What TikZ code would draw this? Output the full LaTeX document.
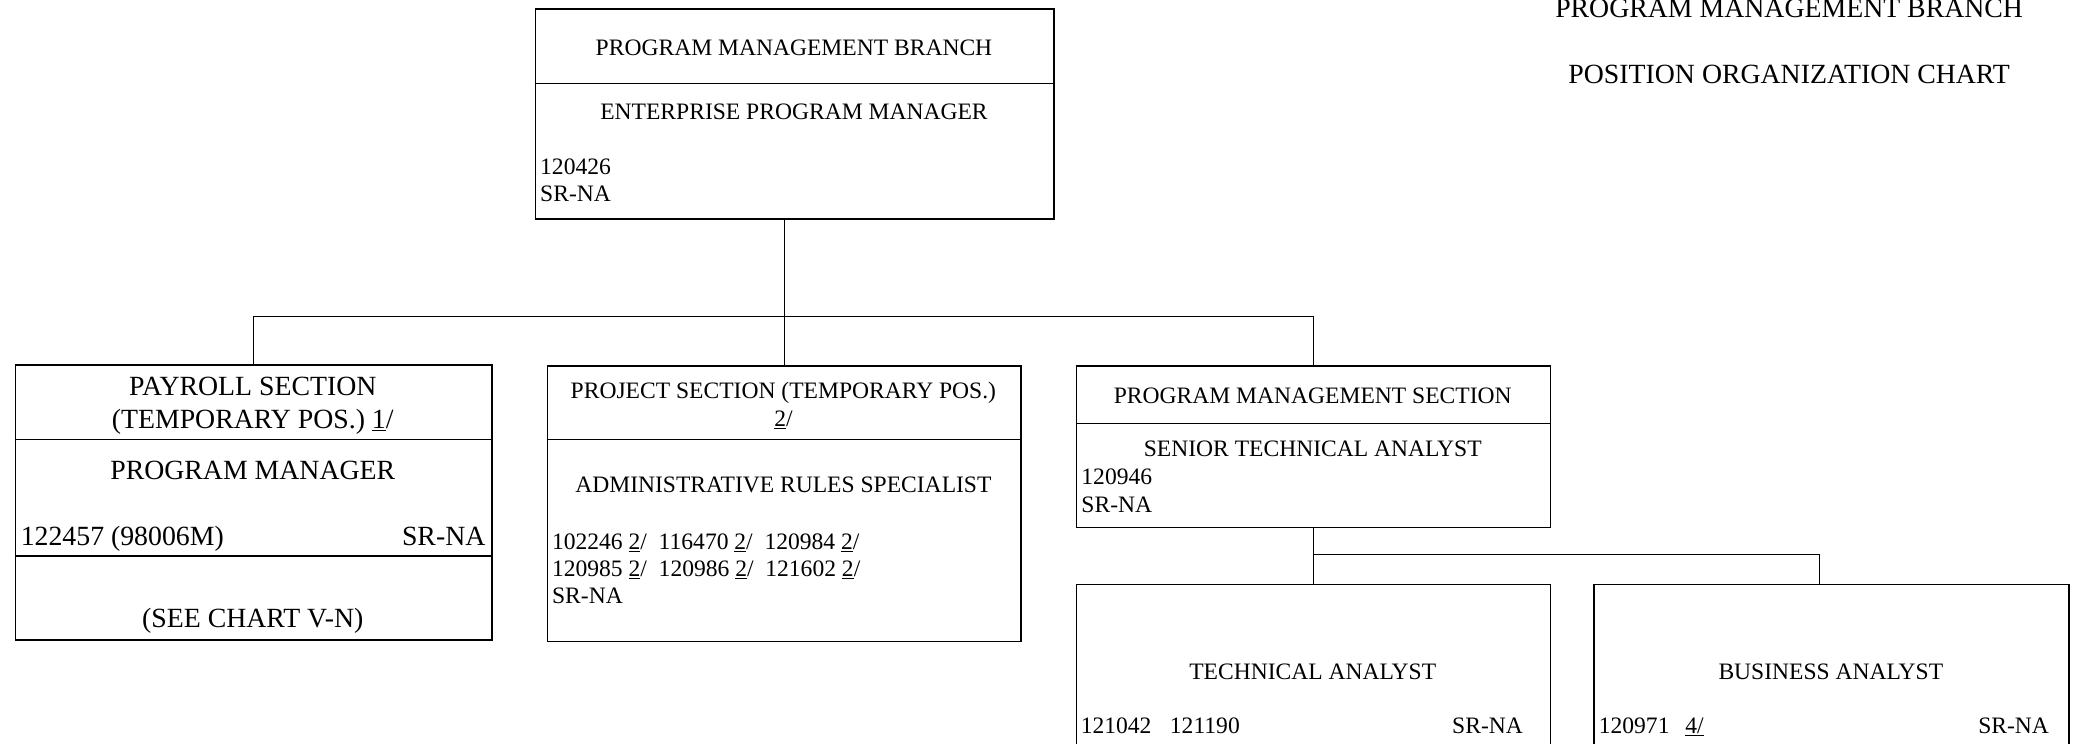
\documentclass[tikz,border=0pt]{standalone}
\usepackage{fontspec}
\setmainfont{Liberation Serif}
\newcommand{\chartfont}{\fontsize{17.8}{21}\selectfont}
\newcommand{\bigchartfont}{\fontsize{21}{25}\selectfont}
\newcommand{\fnmark}[1]{\underline{#1}/}

\begin{document}
\begin{tikzpicture}[x=1pt, y=-1pt,
    box/.style={draw, line width=1.2pt, inner sep=0pt, anchor=north west},
    txt/.style={inner sep=0pt, anchor=base, font=\chartfont},
    ltxt/.style={txt, anchor=base west},
    rtxt/.style={txt, anchor=base east},
    link/.style={line width=0.8pt},
    rule/.style={line width=1.1pt}]
    \useasboundingbox (0,0) rectangle (1568,562);
    \clip (0,0) rectangle (1568,562);

    % heading
    \node[txt, font=\bigchartfont] (head1) at (1352,13) {PROGRAM MANAGEMENT BRANCH};
    \node[txt, font=\bigchartfont] (head2) at (1352,63) {POSITION ORGANIZATION CHART};

    % boxes
    \node[box, minimum width=392pt, minimum height=159pt] (branch) at (404,6) {};
    \node[box, minimum width=360pt, minimum height=208pt] (payroll) at (11,275) {};
    \node[box, minimum width=358pt, minimum height=208pt] (project) at (413,276) {};
    \node[box, minimum width=358pt, minimum height=122pt] (pms) at (813,276) {};
    \node[box, minimum width=358pt, minimum height=122pt] (tech) at (813,441) {};
    \node[box, minimum width=359pt, minimum height=122pt] (business) at (1204,441) {};

    \draw[rule] (404,63) -- (796,63);
    \draw[rule] (11,332) -- (371,332);
    \draw[rule] (11,420) -- (371,420);
    \draw[rule] (413,332) -- (771,332);
    \draw[rule] (813,320) -- (1171,320);

    % connectors
    \coordinate (bus) at (0,239);
    \coordinate (subbus) at (0,419);
    \coordinate (bizdrop) at (1375,441);
    \draw[link] (project.north |- branch.south) -- (project.north);
    \draw[link] (payroll.north |- bus) -- (pms.north |- bus);
    \draw[link] (payroll.north |- bus) -- (payroll.north);
    \draw[link] (pms.north |- bus) -- (pms.north);
    \draw[link] (pms.south) -- (tech.north);
    \draw[link] (pms.south |- subbus) -- (bizdrop |- subbus) -- (bizdrop);

    % branch
    \node[txt] (branchT) at (600,42) {PROGRAM MANAGEMENT BRANCH};
    \node[txt] (branchP) at (600,90) {ENTERPRISE PROGRAM MANAGER};
    \node[ltxt] (branchN) at (408,132) {120426};
    \node[ltxt] (branchS) at (408,152) {SR-NA};

    % payroll
    \node[txt, font=\bigchartfont] (payT1) at (191,299) {PAYROLL SECTION};
    \node[txt, font=\bigchartfont] (payT2) at (191,324) {(TEMPORARY POS.) \fnmark{1}};
    \node[txt, font=\bigchartfont] (payP) at (191,362) {PROGRAM MANAGER};
    \node[ltxt, font=\bigchartfont] (payN) at (15.5,412) {122457 (98006M)};
    \node[rtxt, font=\bigchartfont] (payS) at (367,412) {SR-NA};
    \node[txt, font=\bigchartfont] (paySee) at (191,474) {(SEE CHART V-N)};

    % project
    \node[txt] (projT1) at (592,301) {PROJECT SECTION (TEMPORARY POS.)};
    \node[txt] (projT2) at (592,322.5) {\fnmark{2}};
    \node[txt] (projP) at (592,372.5) {ADMINISTRATIVE RULES SPECIALIST};
    \node[ltxt] (projN1) at (417,415) {102246 \fnmark{2}\ \ 116470 \fnmark{2}\ \ 120984 \fnmark{2}};
    \node[ltxt] (projN2) at (417,435.5) {120985 \fnmark{2}\ \ 120986 \fnmark{2}\ \ 121602 \fnmark{2}};
    \node[ltxt] (projS) at (417,456) {SR-NA};

    % program management section
    \node[txt] (pmsT) at (992,305) {PROGRAM MANAGEMENT SECTION};
    \node[txt] (pmsP) at (992,345) {SENIOR TECHNICAL ANALYST};
    \node[ltxt] (pmsN) at (817,366) {120946};
    \node[ltxt] (pmsS) at (817,387) {SR-NA};

    % analysts
    \node[txt] (techP) at (992,513.5) {TECHNICAL ANALYST};
    \node[ltxt] (techN) at (816.5,554) {121042\hspace{14pt}121190};
    \node[rtxt] (techS) at (1151,554) {SR-NA};
    \node[txt] (bizP) at (1383.5,513.5) {BUSINESS ANALYST};
    \node[ltxt] (bizN) at (1208,554) {120971\hspace{12pt}\underline{4/}};
    \node[rtxt] (bizS) at (1548.5,554) {SR-NA};
\end{tikzpicture}
\end{document}
